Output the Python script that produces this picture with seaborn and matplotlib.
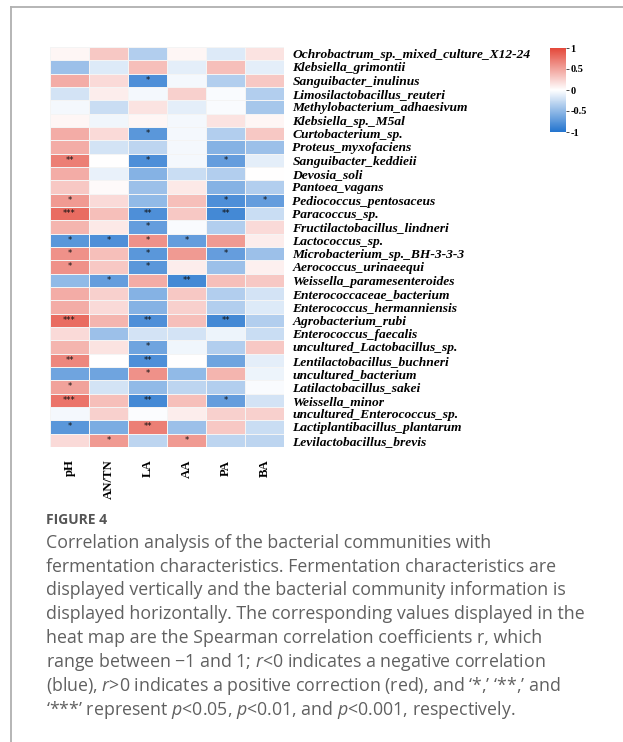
import numpy as np
import pandas as pd
import matplotlib
matplotlib.use("Agg")
import matplotlib.pyplot as plt
import seaborn as sns
from matplotlib.colors import LinearSegmentedColormap
from matplotlib.lines import Line2D

plt.rcParams["mathtext.fontset"] = "custom"
plt.rcParams["mathtext.rm"] = "Open Sans"
plt.rcParams["mathtext.it"] = "Open Sans:italic"

bacteria = [
    "Ochrobactrum_sp._mixed_culture_X12-24", "Klebsiella_grimontii", "Sanguibacter_inulinus",
    "Limosilactobacillus_reuteri", "Methylobacterium_adhaesivum", "Klebsiella_sp._M5al",
    "Curtobacterium_sp.", "Proteus_myxofaciens", "Sanguibacter_keddieii", "Devosia_soli",
    "Pantoea_vagans", "Pediococcus_pentosaceus", "Paracoccus_sp.", "Fructilactobacillus_lindneri",
    "Lactococcus_sp.", "Microbacterium_sp._BH-3-3-3", "Aerococcus_urinaeequi",
    "Weissella_paramesenteroides", "Enterococcaceae_bacterium", "Enterococcus_hermanniensis",
    "Agrobacterium_rubi", "Enterococcus_faecalis", "uncultured_Lactobacillus_sp.",
    "Lentilactobacillus_buchneri", "uncultured_bacterium", "Latilactobacillus_sakei",
    "Weissella_minor", "uncultured_Enterococcus_sp.", "Lactiplantibacillus_plantarum",
    "Levilactobacillus_brevis",
]
traits = ["pH", "AN/TN", "LA", "AA", "PA", "BA"]

r_pH = [0.05, -0.45, 0.45, -0.2, -0.05, 0.05, 0.45, 0.45, 0.7, 0.45,
        0.3, 0.55, 0.8, 0.4, -0.75, 0.6, 0.6, -0.5, 0.45, 0.45,
        0.8, 0.2, 0.4, 0.65, -0.65, 0.5, 0.75, -0.05, -0.75, 0.2]
r_ANTN = [0.3, -0.15, 0.2, 0.1, -0.25, -0.07, 0.2, -0.2, 0.0, -0.1,
          0.03, 0.2, 0.35, 0.12, -0.8, 0.35, 0.3, -0.7, 0.25, 0.2,
          0.4, -0.45, 0.15, 0.0, -0.65, -0.2, 0.35, 0.25, -0.6, 0.55]
r_LA = [-0.35, 0.35, -0.8, -0.05, 0.15, 0.05, -0.75, -0.3, -0.8, -0.55,
        -0.45, -0.5, -0.8, -0.7, 0.6, -0.75, -0.75, 0.45, -0.55, -0.55,
        -0.8, -0.2, -0.65, -0.8, 0.6, -0.5, -0.85, -0.02, 0.7, -0.3]
r_AA = [0.05, -0.12, -0.05, 0.25, -0.12, -0.05, -0.05, -0.05, -0.05, -0.25,
        0.12, 0.35, 0.3, -0.03, -0.7, 0.55, 0.1, -0.85, 0.3, 0.25,
        0.35, -0.2, -0.07, 0.0, -0.5, -0.3, 0.35, 0.1, -0.45, 0.55]
r_PA = [-0.15, 0.35, -0.35, -0.03, -0.03, 0.15, -0.35, -0.55, -0.7, -0.35,
        -0.55, -0.8, -0.85, -0.35, 0.55, -0.7, -0.45, 0.35, -0.35, -0.35,
        -0.85, -0.08, -0.35, -0.65, 0.4, -0.35, -0.7, 0.25, 0.3, -0.3]
r_BA = [0.15, -0.12, 0.3, -0.35, -0.4, 0.05, 0.3, -0.45, -0.12, 0.0,
        -0.35, -0.7, -0.25, 0.2, 0.1, -0.45, 0.08, 0.3, -0.2, -0.15,
        -0.35, -0.25, 0.3, -0.12, -0.08, -0.03, -0.2, 0.25, -0.25, -0.3]

s_pH = ["", "", "", "", "", "", "", "", "**", "",
        "", "*", "***", "", "*", "*", "*", "", "", "",
        "***", "", "", "**", "", "*", "***", "", "*", ""]
s_ANTN = ["", "", "", "", "", "", "", "", "", "",
          "", "", "", "", "*", "", "", "*", "", "",
          "", "", "", "", "", "", "", "", "", "*"]
s_LA = ["", "", "*", "", "", "", "*", "", "*", "",
        "", "", "**", "*", "*", "*", "*", "", "", "",
        "**", "", "*", "**", "*", "", "**", "", "**", ""]
s_AA = ["", "", "", "", "", "", "", "", "", "",
        "", "", "", "", "*", "", "", "**", "", "",
        "", "", "", "", "", "", "", "", "", "*"]
s_PA = ["", "", "", "", "", "", "", "", "*", "",
        "", "*", "**", "", "", "*", "", "", "", "",
        "**", "", "", "", "", "", "*", "", "", ""]
s_BA = ["", "", "", "", "", "", "", "", "", "",
        "", "*", "", "", "", "", "", "", "", "",
        "", "", "", "", "", "", "", "", "", ""]

vals = pd.DataFrame(dict(zip(traits, [r_pH, r_ANTN, r_LA, r_AA, r_PA, r_BA])), index=bacteria)
stars = pd.DataFrame(dict(zip(traits, [s_pH, s_ANTN, s_LA, s_AA, s_PA, s_BA])), index=bacteria)

cmap = LinearSegmentedColormap.from_list("rb", ["#2374CE", "#FFFFFF", "#E4483A"])

fig = plt.figure(figsize=(6.23, 7.42), dpi=100)
ax = fig.add_axes([50/623, 1-447/742, 234/623, 400/742])
cax = fig.add_axes([550/623, 1-132/742, 16/623, 84/742])

sns.heatmap(vals, ax=ax, cbar_ax=cax, cmap=cmap, vmin=-1, vmax=1,
            annot=stars.values, fmt="", annot_kws={"size": 6, "color": "#111111"},
            linewidths=0.4, linecolor="#f4f4f4",
            cbar_kws={"ticks": [-1, -0.5, 0, 0.5, 1]})

ax.yaxis.tick_right()
ax.set_yticks(np.arange(len(bacteria)) + 0.5)
ax.set_yticklabels(bacteria, rotation=0, fontsize=9.7, fontfamily="Liberation Serif",
                   fontweight="bold", fontstyle="italic", ha="left")
ax.set_xticks(np.arange(len(traits)) + 0.5)
ax.set_xticklabels(traits, rotation=90, fontsize=9.2, fontfamily="Liberation Serif",
                   fontweight="bold", va="top")
ax.tick_params(axis="both", length=0)
ax.tick_params(axis="y", pad=6)
ax.tick_params(axis="x", pad=9)
ax.set_xlabel("")
ax.set_ylabel("")

cax.tick_params(length=2, width=0.5, labelsize=7.5, pad=1)
cax.set_yticklabels(["-1", "-0.5", "0", "0.5", "1"], fontfamily="Liberation Serif", fontweight="bold")
for sp in cax.spines.values():
    sp.set_visible(False)

# frame
fig.add_artist(Line2D([11/623, 1.0], [1-7/742, 1-7/742], color="#b0b0b0", lw=1.3, transform=fig.transFigure))
fig.add_artist(Line2D([11/623, 11/623], [1-7/742, 0.0], color="#b0b0b0", lw=1.3, transform=fig.transFigure))

# caption
fig.text(46/623, 1-520/742, "FIGURE 4", fontsize=10, fontweight="bold", color="#555555",
         fontfamily="Open Sans", va="center")
cap_lines = [
    "Correlation analysis of the bacterial communities with",
    "fermentation characteristics. Fermentation characteristics are",
    "displayed vertically and the bacterial community information is",
    "displayed horizontally. The corresponding values displayed in the",
    "heat map are the Spearman correlation coefficients r, which",
    "range between \u22121 and 1; $\\it{r}$<0 indicates a negative correlation",
    "(blue), $\\it{r}$>0 indicates a positive correction (red), and \u2018*,\u2019 \u2018**,\u2019 and",
    "\u2018***\u2019 represent $\\it{p}$<0.05, $\\it{p}$<0.01, and $\\it{p}$<0.001, respectively.",
]
ys = [543, 567, 590, 614, 638, 662, 686, 710]
for t, y in zip(cap_lines, ys):
    fig.text(46/623, 1-y/742, t, fontsize=12.8, color="#606060", fontfamily="Open Sans",
             va="center", ha="left")

fig.savefig("out.png", dpi=100)
